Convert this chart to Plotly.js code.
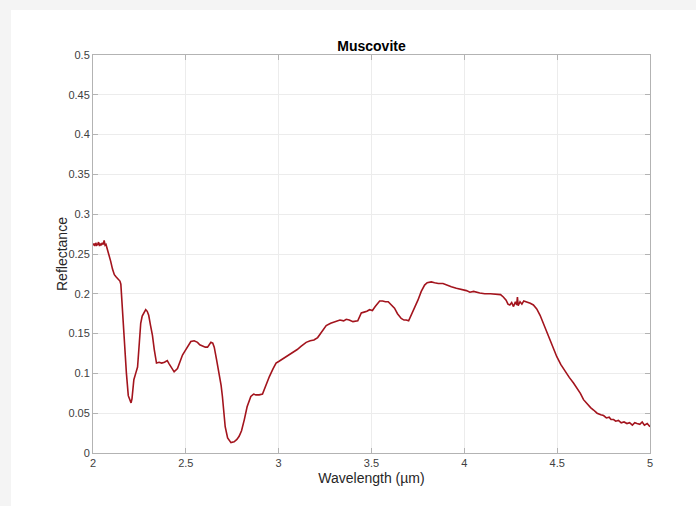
<!DOCTYPE html>
<html>
<head>
<meta charset="utf-8">
<script src="https://cdn.plot.ly/plotly-3.0.1.min.js"></script>
<style>
  html, body { margin: 0; padding: 0; background: #f4f4f4; width: 696px; height: 506px; overflow: hidden; }
  #chart { position: absolute; left: 11px; top: 10px; width: 685px; height: 496px; background: #fff; }
</style>
</head>
<body>
<div id="chart"></div>
<script>
const chartTitle = "Muscovite";
const xLabel = "Wavelength (µm)";
const yLabel = "Reflectance";
const xTicks = [2, 2.5, 3, 3.5, 4, 4.5, 5];
const xTickText = ["2", "2.5", "3", "3.5", "4", "4.5", "5"];
const yTicks = [0, 0.05, 0.1, 0.15, 0.2, 0.25, 0.3, 0.35, 0.4, 0.45, 0.5];
const yTickText = ["0", "0.05", "0.1", "0.15", "0.2", "0.25", "0.3", "0.35", "0.4", "0.45", "0.5"];

const wavelength = [
  2.000, 2.005, 2.010, 2.015, 2.020, 2.025, 2.030, 2.035, 2.040, 2.045, 2.050, 2.055, 2.060, 2.065, 2.070, 2.075,
  2.085, 2.095, 2.105, 2.115, 2.125, 2.135, 2.145, 2.150, 2.158, 2.167, 2.175, 2.180, 2.190, 2.200, 2.205,
  2.210, 2.220, 2.230, 2.240, 2.250, 2.257, 2.265, 2.275, 2.284, 2.292, 2.300, 2.310, 2.320, 2.330, 2.342,
  2.356, 2.370, 2.385, 2.400, 2.410, 2.420, 2.437, 2.455, 2.470, 2.482, 2.495, 2.510, 2.527, 2.545, 2.563,
  2.575, 2.590, 2.605, 2.617, 2.627, 2.635, 2.645, 2.653, 2.665, 2.680, 2.690, 2.697, 2.705, 2.712, 2.725,
  2.743, 2.760, 2.775, 2.787, 2.800, 2.815, 2.830, 2.850, 2.865, 2.877, 2.895, 2.913, 2.930, 2.950, 2.970,
  2.986, 3.000, 3.013, 3.030, 3.057, 3.080, 3.100, 3.120, 3.148, 3.170, 3.190, 3.210, 3.230, 3.256, 3.280,
  3.310, 3.330, 3.350, 3.364, 3.380, 3.400, 3.426, 3.435, 3.445, 3.460, 3.475, 3.490, 3.505, 3.520, 3.535,
  3.544, 3.560, 3.575, 3.590, 3.605, 3.624, 3.640, 3.660, 3.675, 3.687, 3.700, 3.714, 3.730, 3.750, 3.768,
  3.786, 3.800, 3.822, 3.840, 3.860, 3.885, 3.905, 3.930, 3.957, 3.980, 4.011, 4.030, 4.050, 4.083, 4.110,
  4.140, 4.173, 4.195, 4.210, 4.225, 4.235, 4.245, 4.255, 4.265, 4.275, 4.282, 4.286, 4.290, 4.300, 4.310,
  4.320, 4.336, 4.355, 4.372, 4.390, 4.408, 4.430, 4.453, 4.475, 4.498, 4.520, 4.543, 4.565, 4.588, 4.610,
  4.625, 4.642, 4.660, 4.680, 4.696, 4.715, 4.735, 4.750, 4.765, 4.780, 4.790, 4.804, 4.815, 4.830, 4.845,
  4.860, 4.876, 4.890, 4.905, 4.918, 4.930, 4.945, 4.958, 4.970, 4.985, 5.000
];
const reflectance = [
  0.261, 0.263, 0.260, 0.264, 0.261, 0.262, 0.265, 0.260, 0.263, 0.261, 0.264, 0.262, 0.267, 0.261, 0.262, 0.258,
  0.251, 0.241, 0.231, 0.224, 0.221, 0.219, 0.216, 0.212, 0.180, 0.150, 0.118, 0.100, 0.072, 0.064, 0.063,
  0.068, 0.092, 0.100, 0.108, 0.140, 0.163, 0.172, 0.177, 0.180, 0.178, 0.173, 0.160, 0.148, 0.130, 0.113,
  0.114, 0.113, 0.114, 0.116, 0.112, 0.108, 0.102, 0.106, 0.116, 0.123, 0.128, 0.134, 0.140, 0.141, 0.139,
  0.136, 0.134, 0.133, 0.133, 0.137, 0.139, 0.138, 0.133, 0.118, 0.100, 0.085, 0.071, 0.052, 0.033, 0.019,
  0.013, 0.014, 0.017, 0.021, 0.028, 0.042, 0.058, 0.071, 0.074, 0.073, 0.073, 0.074, 0.085, 0.096, 0.106,
  0.113, 0.115, 0.117, 0.119, 0.123, 0.127, 0.130, 0.134, 0.139, 0.141, 0.142, 0.145, 0.151, 0.160, 0.163,
  0.166, 0.167, 0.166, 0.168, 0.167, 0.165, 0.166, 0.172, 0.176, 0.177, 0.178, 0.180, 0.179, 0.184, 0.189,
  0.191, 0.191, 0.190, 0.190, 0.186, 0.182, 0.175, 0.169, 0.167, 0.167, 0.166, 0.173, 0.181, 0.192, 0.203,
  0.211, 0.214, 0.215, 0.214, 0.213, 0.213, 0.211, 0.209, 0.207, 0.206, 0.204, 0.202, 0.203, 0.201, 0.200,
  0.200, 0.199, 0.199, 0.196, 0.192, 0.187, 0.186, 0.189, 0.184, 0.190, 0.186, 0.196, 0.185, 0.190, 0.187,
  0.191, 0.190, 0.188, 0.186, 0.181, 0.173, 0.160, 0.146, 0.133, 0.121, 0.111, 0.102, 0.095, 0.088, 0.080,
  0.075, 0.067, 0.062, 0.057, 0.054, 0.050, 0.048, 0.047, 0.044, 0.045, 0.042, 0.042, 0.040, 0.041, 0.038,
  0.039, 0.037, 0.038, 0.035, 0.038, 0.037, 0.036, 0.039, 0.035, 0.037, 0.033
];

const axisColor = "#b3b3b3";
const fontFamily = "Liberation Sans, Arial, sans-serif";
const tickFont = { family: fontFamily, size: 11, color: "#404040" };

const trace = {
  x: wavelength,
  y: reflectance,
  type: "scatter",
  mode: "lines",
  line: { color: "#a3141d", width: 1.6 },
  hoverinfo: "skip"
};

const layout = {
  width: 685,
  height: 496,
  paper_bgcolor: "#ffffff",
  plot_bgcolor: "#ffffff",
  margin: { l: 82, r: 46, t: 45, b: 53 },
  showlegend: false,
  title: {
    text: "<b>" + chartTitle + "</b>",
    font: { family: fontFamily, size: 14, color: "#000" },
    x: 0.5, xref: "paper", xanchor: "center",
    y: 1, yref: "paper", yanchor: "bottom",
    pad: { b: 4 }
  },
  xaxis: {
    range: [2, 5],
    tickvals: xTicks,
    ticktext: xTickText,
    ticks: "inside",
    ticklen: 5,
    tickcolor: axisColor,
    showline: true,
    linecolor: axisColor,
    linewidth: 1,
    mirror: "ticks",
    showgrid: true,
    gridcolor: "#ececec",
    zeroline: false,
    tickfont: tickFont,
    title: { text: xLabel, font: { family: fontFamily, size: 14, color: "#262626" }, standoff: 4 }
  },
  yaxis: {
    range: [0, 0.5],
    tickvals: yTicks,
    ticktext: yTickText,
    ticks: "inside",
    ticklen: 5,
    tickcolor: axisColor,
    showline: true,
    linecolor: axisColor,
    linewidth: 1,
    mirror: "ticks",
    showgrid: true,
    gridcolor: "#ececec",
    zeroline: false,
    tickfont: tickFont
  },
  annotations: [{
    text: yLabel,
    textangle: -90,
    xref: "paper", yref: "paper",
    x: 0, y: 0.5,
    xanchor: "center", yanchor: "middle",
    xshift: -31,
    showarrow: false,
    font: { family: fontFamily, size: 14, color: "#262626" }
  }]
};

Plotly.newPlot("chart", [trace], layout, { displayModeBar: false, staticPlot: true });
</script>
</body>
</html>
